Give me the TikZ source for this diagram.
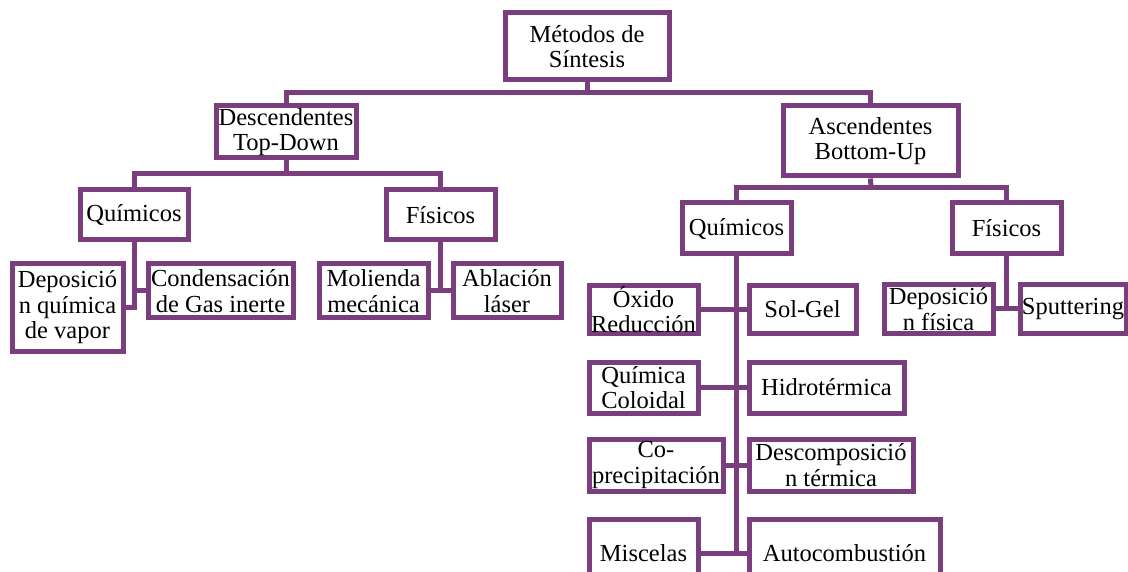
\documentclass[tikz,border=0pt]{standalone}
\usepackage{fontspec}
\setmainfont{Liberation Serif}
\definecolor{boxpurple}{RGB}{122,62,127}
\tikzset{
  box/.style={draw=boxpurple, line width=5pt, fill=white, inner sep=0pt,
    align=center, font=\fontsize{24.5}{25.5}\selectfont},
  link/.style={draw=boxpurple, line width=5pt}
}
\newcommand{\bx}[7]{\node[box, minimum width=#4pt, minimum height=#5pt] (#1) at (#2,#3) {#6};}
\begin{document}
\begin{tikzpicture}[x=1pt,y=-1pt]
\useasboundingbox[fill=white] (0,0) rectangle (1128,572);
% connectors first (behind boxes)
\coordinate (j1) at (587,93);
\coordinate (j2) at (286,174);
\coordinate (j3) at (871,188);
% nodes
\bx{top}{587}{46.5}{164}{67}{Métodos de\\Síntesis}{}
\bx{desc}{286}{132}{140}{52}{Descendentes\\Top-Down}{}
\bx{asc}{870.5}{141}{175}{70}{Ascendentes\\Bottom-Up}{}
\bx{quimL}{134}{215}{108}{50}{Químicos}{}
\bx{fisL}{440.5}{215}{109}{50}{Físicos}{}
\bx{depq}{67.5}{307.5}{111}{87}{Deposició\\n química\\de vapor}{}
\bx{cond}{220.5}{291}{145}{54}{Condensación\\de Gas inerte}{}
\bx{mol}{373.5}{291}{109}{54}{Molienda\\mecánica}{}
\bx{abl}{507}{291}{108}{54}{Ablación\\láser}{}
\bx{quimR}{736.5}{228.5}{109}{51}{Químicos}{}
\bx{fisR}{1006.5}{228.5}{109}{51}{Físicos}{}
\bx{oxido}{643.5}{309.5}{109}{47}{Óxido\\Reducción}{}
\bx{solgel}{802.5}{309.5}{107}{47}{Sol-Gel}{}
\bx{coloidal}{643.5}{387.5}{109}{51}{Química\\Coloidal}{}
\bx{hidro}{826.5}{387.5}{155}{51}{Hidrotérmica}{}
\bx{coprec}{656}{465}{134}{52}{Co-\\precipitación}{}
\bx{descomp}{831}{465}{164}{52}{Descomposició\\n térmica}{}
\bx{misc}{643.5}{553}{109}{68}{Miscelas}{}
\bx{autoc}{844.5}{553}{191}{68}{Autocombustión}{}
\bx{depf}{938.5}{309}{109}{48}{Deposició\\n física}{}
\bx{sputt}{1073}{309}{106}{48}{Sputtering}{}
% connectors
\begin{scope}[on background layer/.try]
\end{scope}
\path[link] (top.south) -- (j1);
\path[link] (desc.north) |- (j1) -| (asc.north);
\path[link] (desc.south) -- (j2);
\path[link] (quimL.north) |- (j2) -| (fisL.north);
\path[link] (quimL.south) |- (depq.east);
\path[link] (cond.west) -- (cond.west -| quimL.south);
\path[link] (fisL.south) -- (fisL.south |- mol.east);
\path[link] (mol.east) -- (abl.west);
\path[link] (asc.south) -- (j3);
\path[link] (quimR.north) |- (j3) -| (fisR.north);
\path[link] (quimR.south) -- (quimR.south |- misc.east);
\path[link] (oxido.east) -- (solgel.west);
\path[link] (coloidal.east) -- (hidro.west);
\path[link] (coprec.east) -- (descomp.west);
\path[link] (misc.east) -- (autoc.west);
\path[link] (fisR.south) -- (fisR.south |- depf.east);
\path[link] (depf.east) -- (sputt.west);
\end{tikzpicture}
\end{document}
